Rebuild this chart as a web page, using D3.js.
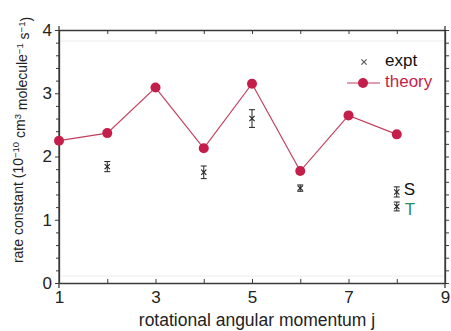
<!DOCTYPE html>
<html>
<head>
<meta charset="utf-8">
<script src="https://cdn.jsdelivr.net/npm/d3@7"></script>
<style>
  html, body { margin: 0; padding: 0; background: #fff; }
  svg { display: block; font-family: "Liberation Sans", Arial, sans-serif; }
</style>
</head>
<body>
<svg id="chart" width="451" height="331"></svg>
<script>
// Rotational-state-resolved rate constants
const jTheory = [1, 2, 3, 4, 5, 6, 7, 8];
const kTheory = [2.25, 2.37, 3.09, 2.13, 3.15, 1.77, 2.65, 2.35];

const jExpt = [2, 4, 5, 6];
const kExpt = [1.84, 1.75, 2.60, 1.50];
const kExptErr = [0.08, 0.10, 0.14, 0.05];

// j = 8 measured separately for singlet and triplet
const spinLabels = ["S", "T"];
const spinColors = ["#111111", "#2a8a6e"];
const kSpin = [1.44, 1.21];
const kSpinErr = [0.08, 0.07];
const jSpin = 8;

const xTickLabels = [1, 3, 5, 7, 9];
const yTickLabels = [0, 1, 2, 3, 4];

const svg = d3.select("#chart");
const m = { left: 59, right: 445, top: 30, bottom: 283 };

const x = d3.scaleLinear().domain([1, 9]).range([m.left, m.right]);
const y = d3.scaleLinear().domain([0, 4]).range([m.bottom, m.top]);

const axisColor = "#3a3a3a";
const red = "#c41e4a";

// faint inner guide lines
svg.append("line").attr("x1", m.left).attr("x2", m.right)
  .attr("y1", m.top + 11).attr("y2", m.top + 11)
  .attr("stroke", "#ececec").attr("stroke-width", 1);
svg.append("line").attr("x1", m.left).attr("x2", m.right)
  .attr("y1", m.bottom - 7).attr("y2", m.bottom - 7)
  .attr("stroke", "#ececec").attr("stroke-width", 1);

// bottom axis: ticks inward at every integer, labels on odd values
const xBottom = d3.axisBottom(x).tickValues(d3.range(1, 10))
  .tickSizeInner(-4).tickSizeOuter(0)
  .tickFormat(d => xTickLabels.includes(d) ? d : "");
const gxb = svg.append("g").attr("transform", `translate(0,${m.bottom})`).call(xBottom);

// top axis
const xTop = d3.axisTop(x).tickValues(d3.range(1, 10))
  .tickSizeInner(-4).tickSizeOuter(0).tickFormat("");
const gxt = svg.append("g").attr("transform", `translate(0,${m.top})`).call(xTop);

// left axis: labelled majors plus minor ticks every 0.2
const yLeft = d3.axisLeft(y).tickValues(yTickLabels).tickSizeInner(4).tickSizeOuter(0)
  .tickFormat(d3.format("d"));
const gyl = svg.append("g").attr("transform", `translate(${m.left},0)`).call(yLeft);
const minor = d3.range(0, 4.01, 0.2).filter(v => Math.abs(v - Math.round(v)) > 1e-6);
svg.append("g").attr("transform", `translate(${m.left},0)`)
  .call(d3.axisLeft(y).tickValues(minor).tickSize(3).tickSizeOuter(0).tickFormat(""))
  .call(g => g.select(".domain").remove());

// right axis
const gyr = svg.append("g").attr("transform", `translate(${m.right},0)`)
  .call(d3.axisRight(y).tickValues(d3.range(0, 4.01, 0.2)).tickSize(4).tickSizeOuter(0).tickFormat(""));

[gxb, gxt, gyl, gyr].forEach(g => {
  g.select(".domain").attr("stroke", axisColor).attr("stroke-width", 1.3);
  g.selectAll(".tick line").attr("stroke", axisColor).attr("stroke-width", 1);
  g.selectAll(".tick text").attr("fill", "#222").style("font-size", "17px")
    .style("font-family", "'Liberation Sans', Arial, sans-serif");
});
gxb.selectAll(".tick text").attr("dy", "1em");
gyl.selectAll(".tick text").attr("x", -7);
svg.selectAll(".tick line").attr("stroke", axisColor);

// short overhang of the vertical frame lines
[m.left, m.right].forEach(px => {
  svg.append("line").attr("x1", px).attr("x2", px)
    .attr("y1", m.top - 4).attr("y2", m.bottom + 5)
    .attr("stroke", axisColor).attr("stroke-width", 1.3);
});

// theory curve
const line = d3.line().x((d, i) => x(jTheory[i])).y(d => y(d));
svg.append("path").datum(kTheory)
  .attr("d", line).attr("fill", "none")
  .attr("stroke", "#c0405e").attr("stroke-width", 1.2);
svg.append("g").selectAll("circle").data(kTheory).join("circle")
  .attr("cx", (d, i) => x(jTheory[i])).attr("cy", d => y(d))
  .attr("r", 5).attr("fill", red);

// experimental points with error bars
function cross(g, cx, cy, color) {
  const s = 2.6;
  g.append("path")
    .attr("d", `M${cx - s},${cy - s}L${cx + s},${cy + s}M${cx - s},${cy + s}L${cx + s},${cy - s}`)
    .attr("stroke", color).attr("stroke-width", 1.1).attr("fill", "none");
}
function errBar(g, cx, lo, hi, color) {
  const cap = 3;
  g.append("path")
    .attr("d", `M${cx},${lo}L${cx},${hi}M${cx - cap},${lo}L${cx + cap},${lo}M${cx - cap},${hi}L${cx + cap},${hi}`)
    .attr("stroke", color).attr("stroke-width", 1).attr("fill", "none");
}
const gE = svg.append("g");
kExpt.forEach((k, i) => {
  const cx = x(jExpt[i]);
  errBar(gE, cx, y(k - kExptErr[i]), y(k + kExptErr[i]), "#222");
  cross(gE, cx, y(k), "#222");
});
kSpin.forEach((k, i) => {
  const cx = x(jSpin);
  errBar(gE, cx, y(k - kSpinErr[i]), y(k + kSpinErr[i]), "#222");
  cross(gE, cx, y(k), "#222");
});
svg.append("text").attr("x", x(jSpin) + 7).attr("y", y(kSpin[0]) - 1)
  .attr("dominant-baseline", "middle").style("font-size", "17px")
  .attr("fill", spinColors[0]).text(spinLabels[0]);
svg.append("text").attr("x", x(jSpin) + 8).attr("y", y(kSpin[1]) + 4)
  .attr("dominant-baseline", "middle").style("font-size", "17px")
  .attr("fill", spinColors[1]).text(spinLabels[1]);

// legend
const lg = svg.append("g");
cross(lg, 364, 62, "#555");
lg.append("text").attr("x", 385).attr("y", 62).attr("dominant-baseline", "middle")
  .style("font-size", "17px").attr("fill", "#111").text("expt");
lg.append("line").attr("x1", 347).attr("x2", 380).attr("y1", 83).attr("y2", 83)
  .attr("stroke", "#c0405e").attr("stroke-width", 1.2);
lg.append("circle").attr("cx", 363).attr("cy", 83).attr("r", 5).attr("fill", red);
lg.append("text").attr("x", 385).attr("y", 83).attr("dominant-baseline", "middle")
  .style("font-size", "17px").attr("fill", red).text("theory");

// axis titles
svg.append("text").attr("x", 257).attr("y", 326)
  .attr("text-anchor", "middle").style("font-size", "17.5px").attr("fill", "#222")
  .text("rotational angular momentum j");

const yt = svg.append("text")
  .attr("transform", `translate(23,140) rotate(-90)`)
  .attr("text-anchor", "middle").style("font-size", "14px").attr("fill", "#222");
yt.append("tspan").text("rate constant (10");
yt.append("tspan").attr("dy", "-0.45em").style("font-size", "9.5px").text("\u221210");
yt.append("tspan").attr("dy", "0.45em").text(" cm");
yt.append("tspan").attr("dy", "-0.45em").style("font-size", "9.5px").text("3");
yt.append("tspan").attr("dy", "0.45em").text(" molecule");
yt.append("tspan").attr("dy", "-0.45em").style("font-size", "9.5px").text("\u22121");
yt.append("tspan").attr("dy", "0.45em").text(" s");
yt.append("tspan").attr("dy", "-0.45em").style("font-size", "9.5px").text("\u22121");
yt.append("tspan").attr("dy", "0.45em").text(")");
</script>
</body>
</html>
